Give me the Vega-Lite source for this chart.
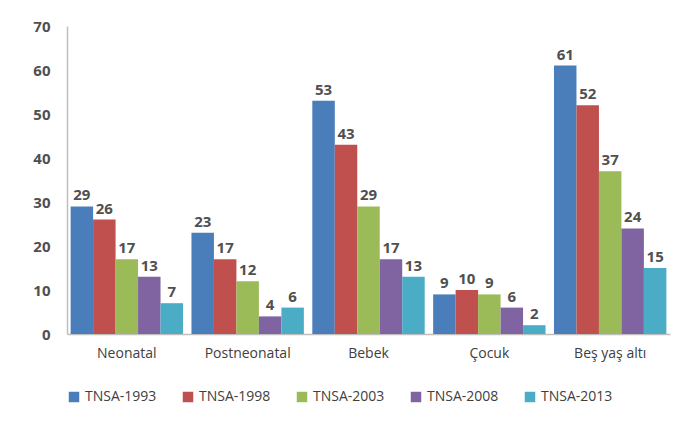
{
  "$schema": "https://vega.github.io/schema/vega-lite/v6.json",
  "width": 603,
  "height": 308,
  "autosize": {"type": "none"},
  "padding": {"left": 67, "top": 26, "right": 10, "bottom": 88},
  "background": "white",
  "config": {
    "view": {"stroke": null},
    "font": "Open Sans"
  },
  "data": {
    "values": [
      {"cat": "Neonatal", "series": "TNSA-1993", "value": 29},
      {"cat": "Neonatal", "series": "TNSA-1998", "value": 26},
      {"cat": "Neonatal", "series": "TNSA-2003", "value": 17},
      {"cat": "Neonatal", "series": "TNSA-2008", "value": 13},
      {"cat": "Neonatal", "series": "TNSA-2013", "value": 7},
      {"cat": "Postneonatal", "series": "TNSA-1993", "value": 23},
      {"cat": "Postneonatal", "series": "TNSA-1998", "value": 17},
      {"cat": "Postneonatal", "series": "TNSA-2003", "value": 12},
      {"cat": "Postneonatal", "series": "TNSA-2008", "value": 4},
      {"cat": "Postneonatal", "series": "TNSA-2013", "value": 6},
      {"cat": "Bebek", "series": "TNSA-1993", "value": 53},
      {"cat": "Bebek", "series": "TNSA-1998", "value": 43},
      {"cat": "Bebek", "series": "TNSA-2003", "value": 29},
      {"cat": "Bebek", "series": "TNSA-2008", "value": 17},
      {"cat": "Bebek", "series": "TNSA-2013", "value": 13},
      {"cat": "Çocuk", "series": "TNSA-1993", "value": 9},
      {"cat": "Çocuk", "series": "TNSA-1998", "value": 10},
      {"cat": "Çocuk", "series": "TNSA-2003", "value": 9},
      {"cat": "Çocuk", "series": "TNSA-2008", "value": 6},
      {"cat": "Çocuk", "series": "TNSA-2013", "value": 2},
      {"cat": "Beş yaş altı", "series": "TNSA-1993", "value": 61},
      {"cat": "Beş yaş altı", "series": "TNSA-1998", "value": 52},
      {"cat": "Beş yaş altı", "series": "TNSA-2003", "value": 37},
      {"cat": "Beş yaş altı", "series": "TNSA-2008", "value": 24},
      {"cat": "Beş yaş altı", "series": "TNSA-2013", "value": 15}
    ]
  },
  "encoding": {
    "x": {
      "field": "cat",
      "type": "nominal",
      "sort": ["Neonatal", "Postneonatal", "Bebek", "Çocuk", "Beş yaş altı"],
      "scale": {"paddingInner": 0.07, "paddingOuter": 0.03},
      "axis": {
        "title": null,
        "labelAngle": 0,
        "ticks": false,
        "domainColor": "#bfbfbf",
        "domainWidth": 1.5,
        "labelFontSize": 14,
        "labelColor": "#404040",
        "labelPadding": 12
      }
    },
    "xOffset": {
      "field": "series",
      "sort": ["TNSA-1993", "TNSA-1998", "TNSA-2003", "TNSA-2008", "TNSA-2013"]
    },
    "y": {
      "field": "value",
      "type": "quantitative",
      "scale": {"domain": [0, 70]},
      "axis": {
        "title": null,
        "values": [0, 10, 20, 30, 40, 50, 60, 70],
        "grid": false,
        "ticks": false,
        "domainColor": "#bfbfbf",
        "domainWidth": 1.5,
        "labelFontSize": 15,
        "labelFontWeight": "bold",
        "labelColor": "#505050",
        "labelPadding": 17
      }
    },
    "color": {
      "field": "series",
      "type": "nominal",
      "sort": ["TNSA-1993", "TNSA-1998", "TNSA-2003", "TNSA-2008", "TNSA-2013"],
      "scale": {
        "domain": ["TNSA-1993", "TNSA-1998", "TNSA-2003", "TNSA-2008", "TNSA-2013"],
        "range": ["#4a7ebb", "#c0504d", "#9bbb59", "#8064a2", "#4bacc6"]
      },
      "legend": {
        "title": null,
        "orient": "bottom",
        "direction": "horizontal",
        "symbolType": "square",
        "symbolSize": 110,
        "symbolStrokeWidth": 0,
        "labelFontSize": 14,
        "labelColor": "#404040",
        "columnPadding": 24,
        "offset": 30
      }
    }
  },
  "layer": [
    {"mark": {"type": "bar"}},
    {
      "mark": {"type": "text", "dy": -11, "fontSize": 15, "fontWeight": "bold", "color": "#505050"},
      "encoding": {
        "text": {"field": "value", "type": "quantitative"},
        "color": {"value": "#505050"}
      }
    }
  ]
}
